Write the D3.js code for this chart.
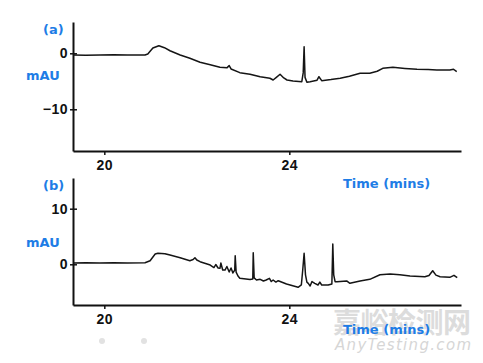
<!DOCTYPE html>
<html>
<head>
<meta charset="utf-8">
<script src="https://cdn.jsdelivr.net/npm/d3@7"></script>
<style>
  body { margin: 0; background: #fff; }
  svg { display: block; }
  .tick-label { font-family: "Liberation Sans", Arial, sans-serif; font-weight: bold; font-size: 14px; fill: #111; letter-spacing: 0.5px; }
  .blue { font-family: "DejaVu Sans", Verdana, sans-serif; font-weight: bold; font-size: 13px; fill: #1e7de6; }
</style>
</head>
<body>
<svg width="483" height="363"></svg>
<script>
// trace (a)
var timeA = [19.33, 19.6, 19.91, 20.2, 20.5, 20.88, 20.94, 21.05, 21.18, 21.3, 21.42, 21.64, 21.85, 22.07, 22.29, 22.5, 22.65, 22.7, 22.74,
  22.93, 23.15, 23.37, 23.58, 23.65, 23.72, 23.8, 23.88, 23.95, 24.08, 24.27, 24.3, 24.32, 24.34, 24.38, 24.45, 24.6, 24.64, 24.7,
  24.9, 25.1, 25.3, 25.53, 25.74, 25.9, 26.02, 26.24, 26.5, 26.76, 27.0, 27.19, 27.47, 27.55, 27.62];
var mauA = [-0.3, -0.35, -0.3, -0.28, -0.32, -0.3, -0.12, 0.95, 1.36, 1.0, 0.46, -0.3, -0.89, -1.6, -2.04, -2.5, -2.6, -2.2, -2.8,
  -3.46, -3.75, -4.18, -4.46, -4.77, -4.3, -3.75, -4.4, -4.77, -4.95, -5.07, -3.5, 1.18, -4.3, -5.18, -5.07, -4.8, -4.18, -4.89,
  -4.7, -4.46, -4.1, -3.57, -3.57, -3.2, -2.68, -2.5, -2.7, -2.86, -2.9, -2.98, -2.98, -2.85, -3.29];

// trace (b)
var timeB = [19.33, 19.6, 19.9, 20.2, 20.5, 20.88, 20.99, 21.1, 21.16, 21.31, 21.42, 21.64, 21.85, 21.92, 21.96, 22.0, 22.07, 22.29,
  22.37, 22.41, 22.46, 22.5, 22.52, 22.56, 22.61, 22.65, 22.7, 22.74, 22.78, 22.82, 22.83, 22.85, 22.89, 22.93, 23.15, 23.21, 23.22,
  23.24, 23.29, 23.37, 23.44, 23.5, 23.57, 23.61, 23.65, 23.71, 23.76, 23.94, 24.19, 24.26, 24.29, 24.32, 24.35, 24.38, 24.41, 24.45,
  24.49, 24.55, 24.62, 24.66, 24.7, 24.84, 24.92, 24.94, 24.96, 24.99, 25.03, 25.24, 25.31, 25.53, 25.74, 25.96, 26.18, 26.39, 26.61,
  26.93, 27.02, 27.1, 27.17, 27.26, 27.47, 27.56, 27.63];
var mauB = [0.23, 0.3, 0.22, 0.3, 0.25, 0.29, 0.65, 1.85, 1.98, 1.9, 1.67, 1.19, 0.65, 0.85, 1.19, 0.77, 0.47, -0.13,
  -0.58, -0.04, -0.67, -0.72, 0.23, -1.03, -1.03, -0.4, -1.38, -0.67, -1.56, -1.03, 1.55, -1.4, -2.1, -2.52, -2.73, -2.64, 2.09,
  -2.45, -2.82, -2.7, -3.0, -2.82, -2.52, -3.1, -2.82, -3.2, -2.95, -3.54, -4.14, -3.72, -1.03, 1.98, -1.9, -3.2, -3.42, -3.9,
  -3.1, -3.42, -3.72, -3.2, -3.72, -3.72, -3.54, 3.65, -1.9, -3.13, -3.13, -3.0, -3.42, -3.0, -2.7, -1.87, -1.74, -1.87, -2.1,
  -2.23, -2.0, -1.15, -1.95, -2.23, -2.34, -1.98, -2.41];

var timeTicks = [20, 24];
var ticksA = [0, -10];
var ticksB = [10, 0];

var svg = d3.select("svg");

// watermark behind everything
svg.append("circle").attr("cx", 102).attr("cy", 341).attr("r", 3).attr("fill", "#e2e2e2");
svg.append("circle").attr("cx", 144).attr("cy", 341).attr("r", 3).attr("fill", "#e2e2e2");
svg.append("text")
    .attr("x", 333).attr("y", 333)
    .attr("textLength", 138)
    .style("font-family", "'Noto Sans CJK SC', sans-serif")
    .style("font-size", "28px")
    .style("font-weight", "bold")
    .style("fill", "#dcdcdc")
    .text("嘉峪检测网");
svg.append("text")
    .attr("x", 335).attr("y", 350)
    .attr("textLength", 136)
    .style("font-family", "'DejaVu Sans', sans-serif")
    .style("font-size", "15px")
    .style("font-style", "italic")
    .style("fill", "#d6d6d6")
    .text("AnyTesting.com");

var x = d3.scaleLinear().domain([19.323, 27.712]).range([73, 461]);

function panel(opts) {
  var y = d3.scaleLinear().domain(opts.domain).range([opts.bottom, opts.top]);
  var g = svg.append("g");

  // axes
  g.append("g")
      .attr("transform", "translate(0," + opts.bottom + ")")
      .call(d3.axisBottom(x).tickValues(timeTicks).tickSize(4).tickSizeOuter(0).tickFormat(d3.format("d")))
      .call(function(a) {
        a.select(".domain").attr("stroke", "#111").attr("stroke-width", 2);
        a.selectAll(".tick line").attr("stroke", "#111").attr("stroke-width", 1.5);
        a.selectAll(".tick text").attr("class", "tick-label").attr("y", 9).attr("dy", "0.71em").attr("fill", null);
      });
  g.append("g")
      .attr("transform", "translate(73,0)")
      .call(d3.axisLeft(y).tickValues(opts.ticks).tickSize(3).tickSizeOuter(0).tickPadding(3))
      .call(function(a) {
        a.select(".domain").attr("stroke", "#111").attr("stroke-width", 2);
        a.selectAll(".tick line").attr("stroke", "#111").attr("stroke-width", 1.5).attr("x2", 4).attr("x1", -3);
        a.selectAll(".tick text").attr("class", "tick-label").attr("x", -5).attr("fill", null);
      });

  var line = d3.line().x(function(d) { return x(d[0]); }).y(function(d) { return y(d[1]); });
  g.append("path")
      .datum(d3.zip(opts.time, opts.mau))
      .attr("d", line)
      .attr("fill", "none")
      .attr("stroke", "#151515")
      .attr("stroke-width", 1.5)
      .attr("stroke-linejoin", "round");

  g.append("text").attr("class", "blue").attr("x", 43).attr("y", opts.top + 12).text(opts.label);
  g.append("text").attr("class", "blue").attr("x", 26).attr("y", opts.mauY).text("mAU");
  g.append("text").attr("class", "blue").attr("x", 343).attr("y", opts.timeY).text("Time (mins)");
}

panel({ time: timeA, mau: mauA, domain: [-17.45, 5.59], top: 22, bottom: 151, ticks: ticksA, label: "(a)", mauY: 80, timeY: 188 });
panel({ time: timeB, mau: mauB, domain: [-7.32, 15.52], top: 178, bottom: 305, ticks: ticksB, label: "(b)", mauY: 247, timeY: 334 });
</script>
</body>
</html>
